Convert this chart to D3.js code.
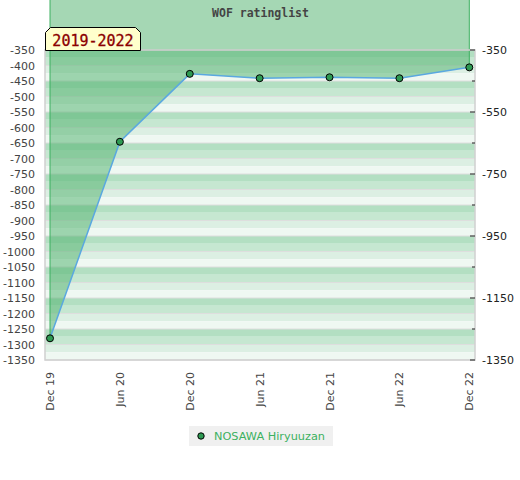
<!DOCTYPE html>
<html><head><meta charset="utf-8">
<script src="https://cdn.jsdelivr.net/npm/d3@7"></script>
<style>body{margin:0;background:#fff}svg{display:block}</style>
</head><body><svg id="c" width="520" height="480"></svg>
<script>
const categories = ["Dec 19","Jun 20","Dec 20","Jun 21","Dec 21","Jun 22","Dec 22"];
const ratings = [-1280,-646,-427,-441,-438,-441,-406];
const leftTicks = d3.range(-350,-1351,-50);
const rightMajor = [-350,-550,-750,-950,-1150,-1350];
const rightMinor = d3.range(-350,-1351,-100);
const seriesName = "NOSAWA Hiryuuzan";
const title = "WOF ratinglist";
const periodLabel = "2019-2022";

const svg = d3.select("#c");
const L=45,R=475,T=50,B=360;
const x = d3.scalePoint().domain(categories).range([50,469.3]);
const y = d3.scaleLinear().domain([-1350,-350]).range([B,T]);
const font = "DejaVu Sans, sans-serif";

// stripes
const bandCols = [["#b3dfc2","#c6e7d1"],["#dcefe3","#eff8f2"]];
leftTicks.slice(0,-1).forEach((v,k)=>{
  const c = bandCols[k%2];
  svg.append("rect").attr("x",L).attr("width",R-L).attr("y",y(v)).attr("height",y(v-25)-y(v)).attr("fill",c[0]);
  svg.append("rect").attr("x",L).attr("width",R-L).attr("y",y(v-25)).attr("height",y(v-50)-y(v-25)).attr("fill",c[1]);
});
leftTicks.forEach(v=>{
  svg.append("line").attr("x1",L).attr("x2",R).attr("y1",y(v)).attr("y2",y(v)).attr("stroke","#dedede").attr("stroke-width",1);
});

// area from line up to top of svg
const pts = categories.map((c,i)=>[x(c),y(ratings[i])]);
const area = d3.area().x(d=>d[0]).y0(0).y1(d=>d[1]);
svg.append("path").attr("d",area(pts)).attr("fill","#4caf6a").attr("fill-opacity",0.5);
svg.append("line").attr("x1",pts[0][0]).attr("x2",pts[0][0]).attr("y1",0).attr("y2",pts[0][1]).attr("stroke","#3cb060").attr("stroke-width",1);
svg.append("line").attr("x1",pts[6][0]).attr("x2",pts[6][0]).attr("y1",0).attr("y2",pts[6][1]).attr("stroke","#3cb060").attr("stroke-width",1);

// plot border
svg.append("rect").attr("x",L).attr("y",T).attr("width",R-L).attr("height",B-T).attr("fill","none").attr("stroke","#d0d0d0").attr("stroke-width",1.5);

// line
svg.append("path").attr("d",d3.line()(pts)).attr("fill","none").attr("stroke","#5aa8e0").attr("stroke-width",1.5);
svg.selectAll("circle.pt").data(pts).join("circle").attr("class","pt")
  .attr("cx",d=>d[0]).attr("cy",d=>d[1]).attr("r",3.5).attr("fill","#2e9a52").attr("stroke","#000").attr("stroke-width",1);

// left axis labels
svg.selectAll("text.yl").data(leftTicks).join("text").attr("class","yl")
  .attr("x",35).attr("y",d=>y(d)+4).attr("text-anchor","end")
  .attr("font-family",font).attr("font-size",11).attr("fill","#444").text(d=>d);

// right axis
rightMinor.forEach(v=>{
  const major = rightMajor.includes(v);
  svg.append("line").attr("x1",major?470:472).attr("x2",475).attr("y1",y(v)).attr("y2",y(v)).attr("stroke","#222").attr("stroke-width",1);
});
svg.selectAll("text.yr").data(rightMajor).join("text").attr("class","yr")
  .attr("x",482).attr("y",d=>y(d)+4).attr("text-anchor","start")
  .attr("font-family",font).attr("font-size",11).attr("fill","#222").text(d=>d);

// x labels
svg.selectAll("text.xl").data(categories).join("text").attr("class","xl")
  .attr("transform",d=>`translate(${x(d)+4},372) rotate(-90)`).attr("text-anchor","end")
  .attr("font-family",font).attr("font-size",11).attr("fill","#444").text(d=>d);

// title
svg.append("text").attr("x",260.5).attr("y",17).attr("text-anchor","middle")
  .attr("font-family","DejaVu Sans Mono, monospace").attr("font-weight","bold").attr("font-size",11.5).attr("fill","#444").text(title);

// period label box with chamfered top corners
const bx0=45.5,bx1=140.5,by0=27.5,by1=50.5,ch=5;
svg.append("path").attr("d",`M${bx0},${by1}L${bx0},${by0+ch}L${bx0+ch},${by0}L${bx1-ch},${by0}L${bx1},${by0+ch}L${bx1},${by1}Z`)
  .attr("fill","#ffffcc").attr("stroke","#000").attr("stroke-width",1);
svg.append("text").attr("x",(bx0+bx1)/2).attr("y",45.5).attr("text-anchor","middle")
  .attr("font-family","DejaVu Sans Mono, monospace").attr("font-size",15).attr("fill","#8b0000")
  .attr("stroke","#8b0000").attr("stroke-width",0.3).text(periodLabel);

// legend
svg.append("rect").attr("x",189).attr("y",426).attr("width",144).attr("height",20).attr("fill","#f0f0f0");
svg.append("circle").attr("cx",201).attr("cy",436).attr("r",3.2).attr("fill","#2e9a52").attr("stroke","#000").attr("stroke-width",1);
svg.append("text").attr("x",214).attr("y",440).attr("font-family",font).attr("font-size",11.3).attr("fill","#3cb060").text(seriesName);
</script></body></html>
